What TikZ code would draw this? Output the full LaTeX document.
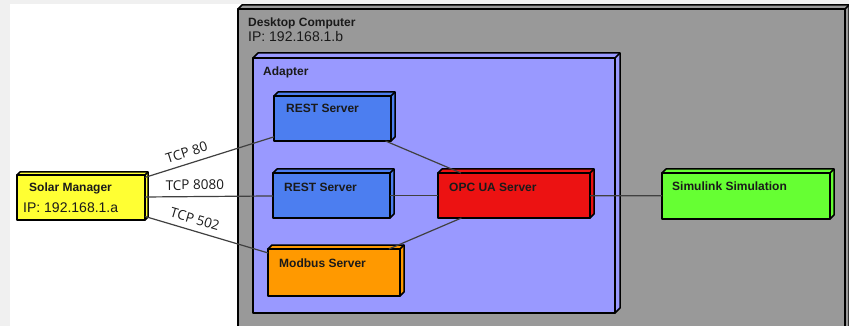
\documentclass[tikz,border=0pt]{standalone}
\usepackage{fontspec}
\setmainfont{Liberation Sans}
\newfontfamily\lblfont{Open Sans}
\usetikzlibrary{fit}
\definecolor{deskgray}{RGB}{153,153,153}
\definecolor{adaptblue}{RGB}{153,153,255}
\definecolor{restblue}{RGB}{76,126,240}
\definecolor{opcred}{RGB}{236,18,18}
\definecolor{simgreen}{RGB}{102,255,51}
\definecolor{modorange}{RGB}{255,153,0}
\definecolor{solaryellow}{RGB}{255,255,51}
\definecolor{wirecol}{RGB}{64,64,64}
\definecolor{txtcol}{RGB}{26,26,26}
\definecolor{framegray}{RGB}{240,240,240}
\tikzset{
  boxline/.style={draw=black, line width=1.5pt, line join=round},
  boxtitle/.style={font=\bfseries\fontsize{12}{14}\selectfont, anchor=base west, inner sep=0pt, text=txtcol},
  ipaddr/.style={font=\fontsize{14}{16}\selectfont, anchor=base west, inner sep=0pt, text=txtcol},
  wire/.style={draw=wirecol, line width=1.2pt},
  proto/.style={font=\lblfont\fontsize{13.5}{15}\selectfont, text=txtcol, sloped, above=4pt, inner sep=2pt}
}
% name, left, top, right, bottom, colour, depth
\newcommand\boxthree[7]{%
  \filldraw[fill=#6, boxline] (#2,#3) -- ++(#7,-#7) -- (#4+#7,#3-#7) -- (#4+#7,#5-#7) -- (#4,#5) -- (#4,#3) -- cycle;
  \draw[boxline] (#4,#3) -- (#4+#7,#3-#7);
  \coordinate (#1-nw) at (#2,#3);
  \coordinate (#1-se) at (#4,#5);
  \node[fit=(#1-nw)(#1-se), inner sep=0pt, outer sep=0pt, fill=#6, boxline] (#1) {};
}
\begin{document}
\begin{tikzpicture}[x=1pt,y=-1pt]
\useasboundingbox (0,0) rectangle (849,326);
\clip (0,0) rectangle (849,326);
\fill[framegray] (0,0) rectangle (849,326);
\fill[white] (10,4) rectangle (849,326);

% containers
\boxthree{desk}{238}{9}{845}{345}{deskgray}{4}
\node[boxtitle] (tdesk) at (248,27) {Desktop Computer};
\node[ipaddr] (ipdesk) at (248,42) {IP: 192.168.1.b};

\boxthree{adapter}{253}{58}{615}{313}{adaptblue}{5}
\node[boxtitle] (tadapter) at (263,76) {Adapter};

% components
\boxthree{rest1}{274}{96}{391}{141}{restblue}{4}
\boxthree{rest2}{273}{173}{390}{218}{restblue}{4}
\boxthree{opc}{438}{173}{590}{218}{opcred}{4}
\boxthree{modbus}{268}{249}{400}{296}{modorange}{4}
\boxthree{sim}{662}{173}{830}{219}{simgreen}{4}
\boxthree{solar}{17}{175}{145}{220}{solaryellow}{3}

% connectors
\draw[wire] (solar) -- node[proto, pos=.35] (l80) {TCP 80} (rest1);
\draw[wire] (solar) -- node[proto, pos=.39] (l8080) {TCP 8080} (rest2);
\draw[wire] (solar) -- node[proto, pos=.38] (l502) {TCP 502} (modbus);
\draw[wire] (rest1) -- (opc);
\draw[wire] (rest2) -- (opc);
\draw[wire] (modbus) -- (opc);
\draw[wire] (opc) -- (sim);

% texts
\node[boxtitle] (trest1) at (286,113) {REST Server};
\node[boxtitle] (trest2) at (284,191) {REST Server};
\node[boxtitle] (topc) at (449,191) {OPC UA Server};
\node[boxtitle] (tmod) at (279,267) {Modbus Server};
\node[boxtitle] (tsim) at (672,190) {Simulink Simulation};
\node[boxtitle] (tsolar) at (29,191) {Solar Manager};
\node[ipaddr] (ipsolar) at (23,212) {IP: 192.168.1.a};
\end{tikzpicture}
\end{document}
